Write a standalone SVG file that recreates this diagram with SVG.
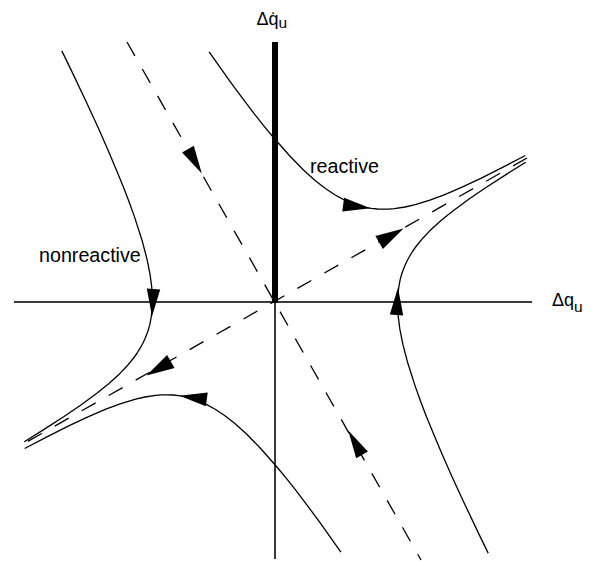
<svg xmlns="http://www.w3.org/2000/svg" width="597" height="561" viewBox="0 0 597 561">
<style>
.axis{stroke:#3a3a3a;stroke-width:2;fill:none}
.curve{stroke:#000;stroke-width:1.3;fill:none;stroke-linejoin:round}
.dash{stroke:#000;stroke-width:1.3;fill:none;stroke-dasharray:16 15}
.arr{fill:#000;stroke:none}
text{font-family:"Liberation Sans",Arial,sans-serif;fill:#000}
.lbl{font-size:19.7px}
.ax{font-size:18px}
</style>
<rect width="597" height="561" fill="#fff"/>
<g id="axes">
<line class="axis" x1="14" y1="302" x2="532" y2="302"/>
<line class="axis" x1="275" y1="302" x2="275" y2="559"/>
<rect id="barrier" x="272" y="42" width="6" height="261" fill="#000"/>
</g>
<g id="connectors">
<g id="manifolds">
<line class="dash" x1="127" y1="42" x2="421" y2="560"/>
<line class="dash" x1="527" y1="158" x2="25" y2="443"/>
<polygon class="arr" points="201.8,173.4 182.1,152.4 193.8,145.8"/>
<polygon class="arr" points="201.8,173.4 182.1,152.4 193.8,145.8" transform="rotate(180 275 302)"/>
<polygon class="arr" points="403.5,228.6 375.4,236.1 382.9,249.0"/>
<polygon class="arr" points="403.5,228.6 375.4,236.1 382.9,249.0" transform="rotate(180 275 302)"/>
</g>
<g id="reactive-trajectories">
<g id="reactive-upper">
<polyline class="curve" points="209.1,51.8 229.8,81.1 242.6,98.4 253.9,113.4 264.2,126.3 273.5,137.5 289.6,155.8 303.2,169.7 315.1,180.4 325.4,188.5 334.8,194.7 343.2,199.4 351.0,202.9 358.2,205.6 364.9,207.3 371.3,208.4 377.4,209.0 383.3,209.2 389.0,209.2 394.4,208.7 405.0,207.0 415.2,204.6 429.9,200.1 444.2,194.8 462.6,186.8 480.8,178.3 503.1,167.1 525.3,155.5"/>
<polygon class="arr" points="370.5,208.3 344.1,197.8 342.3,211.6"/>
</g>
<g id="reactive-lower" transform="rotate(180 275 302)">
<polyline class="curve" points="209.1,51.8 229.8,81.1 242.6,98.4 253.9,113.4 264.2,126.3 273.5,137.5 289.6,155.8 303.2,169.7 315.1,180.4 325.4,188.5 334.8,194.7 343.2,199.4 351.0,202.9 358.2,205.6 364.9,207.3 371.3,208.4 377.4,209.0 383.3,209.2 389.0,209.2 394.4,208.7 405.0,207.0 415.2,204.6 429.9,200.1 444.2,194.8 462.6,186.8 480.8,178.3 503.1,167.1 525.3,155.5"/>
<polygon class="arr" points="370.5,208.3 344.1,197.8 342.3,211.6"/>
</g>
</g>
<g id="nonreactive-trajectories">
<g id="nonreactive-left">
<polyline class="curve" points="61.8,50.9 71.8,71.4 86.2,101.8 98.2,127.8 108.2,150.5 116.6,170.4 123.7,187.8 129.6,203.3 134.5,216.9 142.0,240.2 147.0,259.1 150.1,274.6 151.8,287.7 152.4,298.9 152.2,308.6 151.2,317.1 149.8,324.6 147.9,331.3 145.5,337.4 143.0,343.0 140.1,348.2 137.2,353.0 134.0,357.5 127.2,365.8 120.0,373.4 108.7,383.7 96.8,393.2 80.6,405.2 64.0,416.5 42.9,430.1 24.3,441.7"/>
<polygon class="arr" points="152,316.5 146.8,288.6 160.2,289.6"/>
</g>
<g id="nonreactive-right" transform="rotate(180 275 302)">
<polyline class="curve" points="61.8,50.9 71.8,71.4 86.2,101.8 98.2,127.8 108.2,150.5 116.6,170.4 123.7,187.8 129.6,203.3 134.5,216.9 142.0,240.2 147.0,259.1 150.1,274.6 151.8,287.7 152.4,298.9 152.2,308.6 151.2,317.1 149.8,324.6 147.9,331.3 145.5,337.4 143.0,343.0 140.1,348.2 137.2,353.0 134.0,357.5 127.2,365.8 120.0,373.4 108.7,383.7 96.8,393.2 80.6,405.2 64.0,416.5 42.9,430.1 24.3,441.7"/>
<polygon class="arr" points="152,316.5 146.8,288.6 160.2,289.6"/>
</g>
</g>
</g>
<g id="labels">
<text class="ax" x="256.5" y="25">Δq̇<tspan font-size="15.5" dy="2.5">u</tspan></text>
<text class="ax" x="552" y="306">Δq<tspan font-size="15.5" dy="6">u</tspan></text>
<text class="lbl" x="310" y="172.5">reactive</text>
<text class="lbl" x="39" y="262">nonreactive</text>
</g>
</svg>
